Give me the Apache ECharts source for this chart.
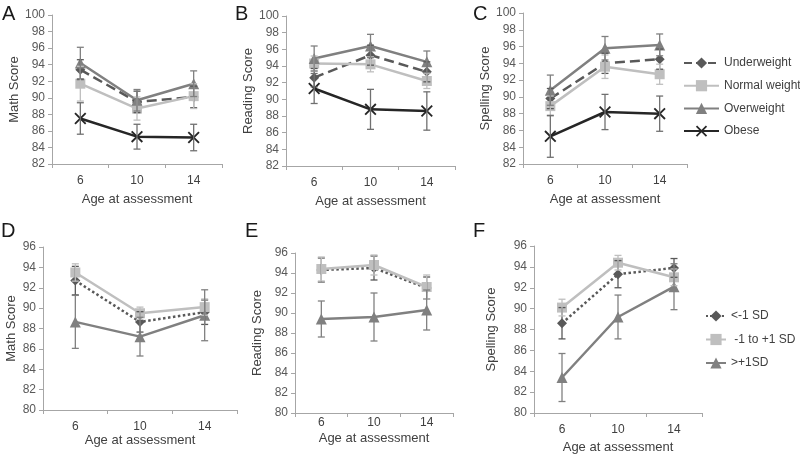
<!DOCTYPE html>
<html><head><meta charset="utf-8">
<script src="https://cdn.jsdelivr.net/npm/echarts@6/dist/echarts.min.js"></script>
<style>html,body{margin:0;padding:0;background:#fff}#c{width:800px;height:455px}</style>
</head><body><div id="c"></div>
<script>
const ages = ['6', '10', '14'];
const weightGroups = ['Underweight', 'Normal weight', 'Overweight', 'Obese'];
const sdGroups = ['<-1 SD', '-1 to +1 SD', '>+1SD'];
const topTicks = { min: 82, max: 100, step: 2 };
const bottomTicks = { min: 80, max: 96, step: 2 };

// Panel A: Math by weight
const mathUnder = [93.4, 89.5, 90.1];   const mathUnderErr = [1.2, 1.3, 1.3];
const mathNormal = [91.7, 88.7, 90.2];  const mathNormalErr = [2.1, 1.4, 1.5];
const mathOver = [94.2, 89.7, 91.7];    const mathOverErr = [1.9, 1.3, 1.55];
const mathObese = [87.5, 85.3, 85.2];   const mathObeseErr = [1.9, 1.5, 1.6];
// Panel B: Reading by weight
const readUnder = [92.6, 95.3, 93.3];   const readUnderErr = [1.1, 1.2, 1.2];
const readNormal = [94.3, 94.2, 92.2];  const readNormalErr = [0.9, 0.9, 0.9];
const readOver = [94.9, 96.4, 94.5];    const readOverErr = [1.5, 1.4, 1.3];
const readObese = [91.3, 88.8, 88.6];   const readObeseErr = [1.8, 2.4, 2.3];
// Panel C: Spelling by weight
const spellUnder = [89.8, 94.0, 94.5];  const spellUnderErr = [1.2, 1.2, 1.2];
const spellNormal = [88.9, 93.6, 92.7]; const spellNormalErr = [1.2, 1.4, 1.2];
const spellOver = [90.8, 95.8, 96.2];   const spellOverErr = [1.8, 1.4, 1.3];
const spellObese = [85.3, 88.2, 88.0];  const spellObeseErr = [2.5, 2.1, 2.1];
// Panel D: Math by SD group
const mathLow = [92.7, 88.65, 89.6];    const mathLowErr = [1.4, 1.0, 1.2];
const mathMid = [93.5, 89.5, 90.1];     const mathMidErr = [0.85, 0.6, 0.8];
const mathHigh = [88.65, 87.2, 89.3];   const mathHighErr = [2.6, 1.9, 2.5];
// Panel E: Reading by SD group
const readLow = [94.3, 94.5, 92.5];     const readLowErr = [1.2, 1.2, 1.1];
const readMid = [94.4, 94.8, 92.6];     const readMidErr = [1.2, 1.0, 1.2];
const readHigh = [89.4, 89.6, 90.3];    const readHighErr = [1.8, 2.4, 2.0];
// Panel F: Spelling by SD group
const spellLow = [88.6, 93.3, 93.9];    const spellLowErr = [1.5, 1.3, 0.9];
const spellMid = [90.1, 94.4, 93.0];    const spellMidErr = [0.8, 0.7, 0.8];
const spellHigh = [83.4, 89.2, 92.1];   const spellHighErr = [2.3, 2.1, 2.2];

const panelLetters = ['A', 'B', 'C', 'D', 'E', 'F'];
const yTitles = ['Math Score', 'Reading Score', 'Spelling Score', 'Math Score', 'Reading Score', 'Spelling Score'];
const xTitle = 'Age at assessment';

const FONT = 'Liberation Sans, Arial, sans-serif';
const X_PATH = 'path://M0,1.1L1.1,0L10,8.9L8.9,10Z M8.9,0L10,1.1L1.1,10L0,8.9Z';

const weightStyles = [
  { color: '#595959', type: 'dashed', symbol: 'diamond', size: 10 },
  { color: '#bfbfbf', type: 'solid', symbol: 'rect', size: 10 },
  { color: '#808080', type: 'solid', symbol: 'triangle', size: 11 },
  { color: '#262626', type: 'solid', symbol: X_PATH, size: 12 }
];
const sdStyles = [
  { color: '#595959', type: 'dotted', symbol: 'diamond', size: 10 },
  { color: '#bfbfbf', type: 'solid', symbol: 'rect', size: 10 },
  { color: '#808080', type: 'solid', symbol: 'triangle', size: 11 }
];

const panels = [
  { grid: { left: 52, top: 15, width: 170, height: 149 }, ticks: topTicks, names: weightGroups, styles: weightStyles,
    vals: [mathUnder, mathNormal, mathOver, mathObese], errs: [mathUnderErr, mathNormalErr, mathOverErr, mathObeseErr],
    yGap: 29, xGap: 29, xLabelMargin: 11, letter: [2, 4] },
  { grid: { left: 286, top: 16, width: 169, height: 150 }, ticks: topTicks, names: weightGroups, styles: weightStyles,
    vals: [readUnder, readNormal, readOver, readObese], errs: [readUnderErr, readNormalErr, readOverErr, readObeseErr],
    yGap: 31, xGap: 29, xLabelMargin: 11, letter: [235, 4] },
  { grid: { left: 523, top: 13, width: 164, height: 151 }, ticks: topTicks, names: weightGroups, styles: weightStyles,
    vals: [spellUnder, spellNormal, spellOver, spellObese], errs: [spellUnderErr, spellNormalErr, spellOverErr, spellObeseErr],
    yGap: 29, xGap: 29, xLabelMargin: 11, letter: [473, 4] },
  { grid: { left: 43, top: 247, width: 194, height: 163 }, ticks: bottomTicks, names: sdGroups, styles: sdStyles,
    vals: [mathLow, mathMid, mathHigh], errs: [mathLowErr, mathMidErr, mathHighErr],
    yGap: 25, xGap: 20, xLabelMargin: 11, letter: [1, 221] },
  { grid: { left: 295, top: 253, width: 158, height: 160 }, ticks: bottomTicks, names: sdGroups, styles: sdStyles,
    vals: [readLow, readMid, readHigh], errs: [readLowErr, readMidErr, readHighErr],
    yGap: 31, xGap: 19, xLabelMargin: 4, letter: [245, 221] },
  { grid: { left: 534, top: 246, width: 168, height: 167 }, ticks: bottomTicks, names: sdGroups, styles: sdStyles,
    vals: [spellLow, spellMid, spellHigh], errs: [spellLowErr, spellMidErr, spellHighErr],
    yGap: 36, xGap: 28, xLabelMargin: 11, letter: [473, 221] }
];

const grids = [], xAxes = [], yAxes = [], series = [], graphics = [];
panels.forEach((p, i) => {
  grids.push(Object.assign({ containLabel: false }, p.grid));
  xAxes.push({
    type: 'category', gridIndex: i, data: ages, boundaryGap: true,
    name: xTitle, nameLocation: 'middle', nameGap: p.xGap,
    nameTextStyle: { fontFamily: FONT, fontSize: 13, color: '#404040' },
    axisLine: { lineStyle: { color: '#a6a6a6', width: 1 } },
    axisTick: { show: true, length: 4, lineStyle: { color: '#a6a6a6' } },
    axisLabel: { fontFamily: FONT, fontSize: 12, color: '#404040', margin: p.xLabelMargin },
    splitLine: { show: false }
  });
  yAxes.push({
    type: 'value', gridIndex: i, min: p.ticks.min, max: p.ticks.max, interval: p.ticks.step,
    name: yTitles[i], nameLocation: 'middle', nameGap: p.yGap,
    nameTextStyle: { fontFamily: FONT, fontSize: 13, color: '#404040' },
    axisLine: { show: true, lineStyle: { color: '#a6a6a6', width: 1 } },
    axisTick: { show: true, length: 4, lineStyle: { color: '#a6a6a6' } },
    axisLabel: { fontFamily: FONT, fontSize: 12, color: '#595959', margin: 7 },
    splitLine: { show: false }
  });
  p.names.forEach((nm, k) => {
    const st = p.styles[k];
    const vals = p.vals[k], errs = p.errs[k];
    series.push({
      type: 'custom', xAxisIndex: i, yAxisIndex: i, z: 3, silent: true,
      name: 'err-' + i + '-' + k,
      data: vals.map((v, j) => [j, v - errs[j], v + errs[j]]),
      encode: { x: 0, y: [1, 2] },
      renderItem: (params, api) => {
        const xi = api.value(0);
        const lo = api.coord([xi, api.value(1)]);
        const hi = api.coord([xi, api.value(2)]);
        const w = 3.5;
        const s = { stroke: st.color === '#262626' ? '#707070' : st.color, lineWidth: 1.3 };
        return { type: 'group', children: [
          { type: 'line', shape: { x1: lo[0], y1: lo[1], x2: hi[0], y2: hi[1] }, style: s },
          { type: 'line', shape: { x1: lo[0] - w, y1: lo[1], x2: lo[0] + w, y2: lo[1] }, style: s },
          { type: 'line', shape: { x1: hi[0] - w, y1: hi[1], x2: hi[0] + w, y2: hi[1] }, style: s }
        ] };
      }
    });
    series.push({
      type: 'line', name: nm, xAxisIndex: i, yAxisIndex: i, z: 2,
      data: vals,
      symbol: st.symbol, symbolSize: st.size, showSymbol: true,
      itemStyle: { color: st.color },
      lineStyle: { color: st.color, width: 2.5, type: st.type },
      emphasis: { disabled: true }
    });
  });
  graphics.push({
    type: 'text', left: p.letter[0], top: p.letter[1],
    style: { text: panelLetters[i], font: '20px ' + FONT, fill: '#1a1a1a' }
  });
});

const chart = echarts.init(document.getElementById('c'), null, { renderer: 'canvas' });
chart.setOption({
  animation: false,
  backgroundColor: '#ffffff',
  grid: grids, xAxis: xAxes, yAxis: yAxes, series: series, graphic: graphics,
  legend: [
    { data: weightGroups, orient: 'vertical', left: 683, top: 57, padding: 0, itemWidth: 35, itemHeight: 14, itemGap: 10.7,
      textStyle: { fontFamily: FONT, fontSize: 12, color: '#404040' }, selectedMode: false },
    { data: sdGroups, orient: 'vertical', left: 705, top: 310, padding: 0, itemWidth: 20, itemHeight: 14, itemGap: 11.5,
      textStyle: { fontFamily: FONT, fontSize: 12, color: '#404040' },
      formatter: n => n.charAt(0) === '-' ? ' ' + n : n, selectedMode: false }
  ]
});
</script></body></html>
